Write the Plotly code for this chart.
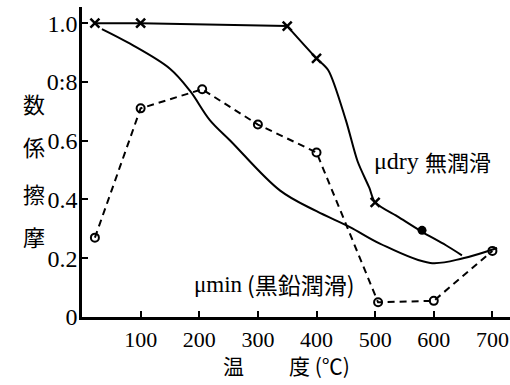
import plotly.graph_objects as go

# μdry (no lubrication) - solid line with x markers
dry_line_x = [22, 100, 350, 400, 420, 450, 470, 490, 500, 540, 580, 620, 648]
dry_line_y = [1.0, 1.0, 0.99, 0.88, 0.84, 0.67, 0.53, 0.44, 0.39, 0.34, 0.29, 0.245, 0.21]
dry_mark_x = [22, 100, 350, 400, 500]
dry_mark_y = [1.0, 1.0, 0.99, 0.88, 0.39]
dot_x = [580]
dot_y = [0.295]

# μmin solid curve
min_x = [34, 82, 150, 184, 218, 253, 338, 400, 457, 508, 594, 650, 708]
min_y = [0.98, 0.93, 0.845, 0.77, 0.67, 0.60, 0.43, 0.36, 0.306, 0.25, 0.184, 0.20, 0.235]

# graphite lubrication - dashed with open circles
gr_x = [22, 100, 205, 300, 400, 505, 600, 700]
gr_y = [0.27, 0.71, 0.775, 0.655, 0.56, 0.05, 0.055, 0.225]

x_ticks = [100, 200, 300, 400, 500, 600, 700]
y_ticks = [0, 0.2, 0.4, 0.6, 0.8, 1.0]
y_ticktext = ["0", "0.2", "0.4", "0.6", "0:8", "1.0"]

serif = "Liberation Serif"
cjk = "Noto Sans CJK JP"

fig = go.Figure()
fig.add_trace(go.Scatter(x=gr_x, y=gr_y, mode="lines+markers",
                         line=dict(color="black", width=2, dash="7px,5px"),
                         marker=dict(symbol="circle-open", size=8, color="black",
                                     line=dict(width=2, color="black")),
                         cliponaxis=False, showlegend=False))
fig.add_trace(go.Scatter(x=min_x, y=min_y, mode="lines",
                         line=dict(color="black", width=2, shape="spline", smoothing=1.0),
                         showlegend=False))
fig.add_trace(go.Scatter(x=dry_line_x[:3], y=dry_line_y[:3], mode="lines",
                         line=dict(color="black", width=2),
                         showlegend=False))
fig.add_trace(go.Scatter(x=dry_line_x[2:], y=dry_line_y[2:], mode="lines",
                         line=dict(color="black", width=2, shape="spline", smoothing=0.8),
                         showlegend=False))
fig.add_trace(go.Scatter(x=dry_mark_x, y=dry_mark_y, mode="markers",
                         marker=dict(symbol="x-thin-open", size=9, color="black",
                                     line=dict(width=2.5, color="black")),
                         cliponaxis=False, showlegend=False))
fig.add_trace(go.Scatter(x=dot_x, y=dot_y, mode="markers",
                         marker=dict(symbol="circle", size=9, color="black"),
                         showlegend=False))

L, T, W, H = 82, 7, 428, 310


def px(xp):
    return (xp - L) / W


def py(yp):
    return (T + H - yp) / H


ann = []
for ch, yp in [("数", 103), ("係", 146), ("擦", 193), ("摩", 236)]:
    ann.append(dict(text=ch, x=px(34), y=py(yp), xref="paper", yref="paper",
                    showarrow=False, font=dict(family=cjk, size=22, color="black"),
                    xanchor="center", yanchor="middle"))
ann.append(dict(text="温", x=px(233), y=py(365), xref="paper", yref="paper",
                showarrow=False, font=dict(family=cjk, size=21, color="black"),
                xanchor="center", yanchor="middle"))
ann.append(dict(text="度 (℃)", x=px(287), y=py(365), xref="paper", yref="paper",
                showarrow=False, font=dict(family=cjk, size=21, color="black"),
                xanchor="left", yanchor="middle"))
ann.append(dict(text="μdry", x=px(372), y=py(161), xref="paper", yref="paper",
                showarrow=False, font=dict(family=serif, size=24, color="black"),
                xanchor="left", yanchor="middle"))
ann.append(dict(text="無潤滑", x=px(493), y=py(161), xref="paper", yref="paper",
                showarrow=False, font=dict(family=cjk, size=22, color="black"),
                xanchor="right", yanchor="middle"))
ann.append(dict(text="μmin", x=px(192), y=py(284), xref="paper", yref="paper",
                showarrow=False, font=dict(family=serif, size=23, color="black"),
                xanchor="left", yanchor="middle"))
ann.append(dict(text="(黒鉛潤滑)", x=px(357), y=py(284), xref="paper", yref="paper",
                showarrow=False, font=dict(family=cjk, size=23, color="black"),
                xanchor="right", yanchor="middle"))

fig.update_layout(
    width=510, height=385,
    margin=dict(l=L, r=510 - L - W, t=T, b=385 - T - H),
    paper_bgcolor="white", plot_bgcolor="white",
    annotations=ann,
    font=dict(family=serif, color="black"),
    xaxis=dict(range=[0, 730], tickvals=x_ticks, ticks="inside", ticklen=6,
               tickwidth=2, tickcolor="black", showline=True, linecolor="black",
               linewidth=2.5, showgrid=False, zeroline=False,
               tickfont=dict(family=serif, size=22, color="black"),
               ticklabelstandoff=1),
    yaxis=dict(range=[0, 1.055], tickvals=y_ticks, ticktext=y_ticktext,
               ticks="inside", ticklen=6, tickwidth=2, tickcolor="black",
               showline=True, linecolor="black", linewidth=2.5, showgrid=False,
               zeroline=False, tickfont=dict(family=serif, size=24, color="black"),
               ticklabelstandoff=-3),
)

fig.write_html("out.html")
